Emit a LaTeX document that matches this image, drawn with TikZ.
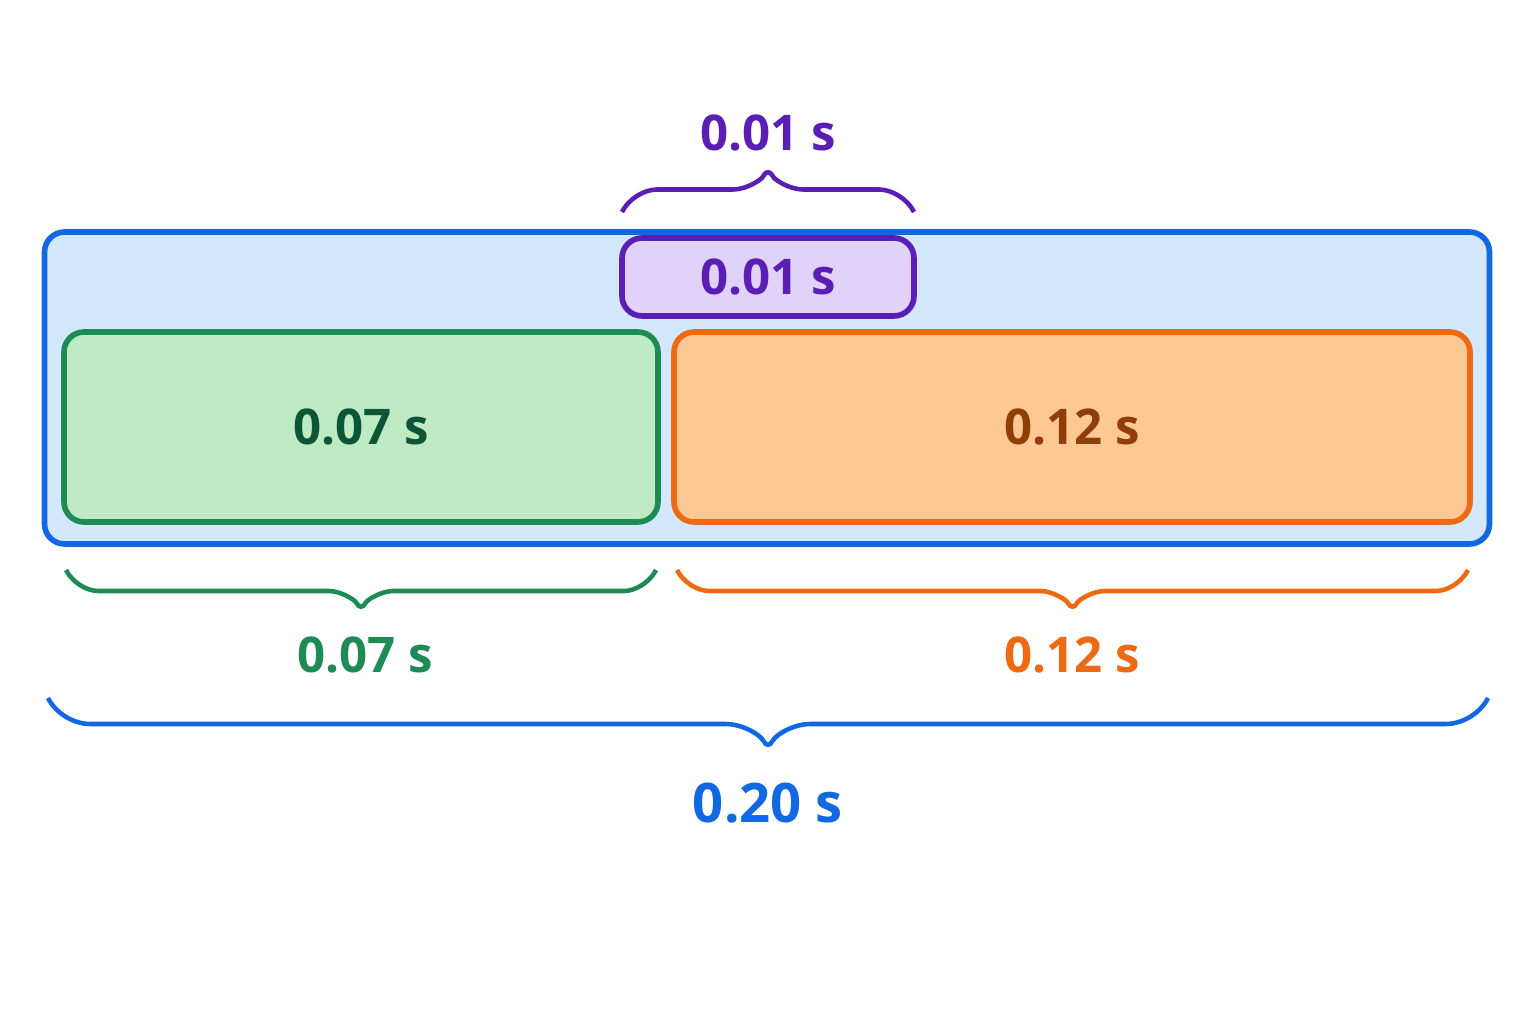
\documentclass[tikz,border=0pt]{standalone}
\usepackage{fontspec}
\setmainfont{Open Sans}
\usetikzlibrary{decorations.pathreplacing}
\definecolor{tblue}{HTML}{1268E0}
\definecolor{tbluefill}{HTML}{D3E8FC}
\definecolor{tpurple}{HTML}{5A1EB4}
\definecolor{tpurplefill}{HTML}{E0D2F8}
\definecolor{tgreen}{HTML}{1E8A55}
\definecolor{tgreenfill}{HTML}{BEEBC4}
\definecolor{tgreentext}{HTML}{0E5436}
\definecolor{torange}{HTML}{EE6A12}
\definecolor{torangefill}{HTML}{FDC894}
\definecolor{torangetext}{HTML}{8F3E08}
\begin{document}
\begin{tikzpicture}
   [x=0.1mm, y=-0.1mm,
   timebox/.style={rectangle, rounded corners=2mm, line width=1.6pt, inner sep=0pt},
   tlabel/.style={font=\bfseries\fontsize{14}{16}\selectfont},
   tbrace/.style={decorate, line width=1.3pt, rounded corners=1mm, decoration={brace, amplitude=#1}},
   ]
 \useasboundingbox[fill=white] (0,0) rectangle (1536,1024);
 \node at (767,388) [timebox, draw=tblue, fill=tbluefill, minimum width=14.45cm, minimum height=3.12cm] (total) {};
 \node at (768,277) [timebox, draw=tpurple, fill=tpurplefill, minimum width=2.92cm, minimum height=0.78cm, tlabel, text=tpurple] (gap) {0.01 s};
 \node at (361,427) [timebox, draw=tgreen, fill=tgreenfill, minimum width=5.94cm, minimum height=1.9cm, tlabel, text=tgreentext] (first) {0.07 s};
 \node at (1072,427) [timebox, draw=torange, fill=torangefill, minimum width=7.96cm, minimum height=1.9cm, tlabel, text=torangetext] (second) {0.12 s};
 % braces
 \coordinate (p1) at (622,212); \coordinate (p2) at (914,212);
 \coordinate (g1) at (656,570); \coordinate (g2) at (66,570);
 \coordinate (o1) at (1468,570); \coordinate (o2) at (677,570);
 \coordinate (b1) at (1488,698); \coordinate (b2) at (48,698);
 \draw[tbrace=4.5mm, tpurple] (p1) -- (p2);
 \draw[tbrace=4.2mm, tgreen] (g1) -- (g2);
 \draw[tbrace=4.2mm, torange] (o1) -- (o2);
 \draw[tbrace=5.2mm, tblue] (b1) -- (b2);
 \node at (768,133) [tlabel, text=tpurple] (gaplabel) {0.01 s};
 \node at (365,655) [tlabel, text=tgreen] (firstlabel) {0.07 s};
 \node at (1072,655) [tlabel, text=torange] (secondlabel) {0.12 s};
 \node at (768,803) [tlabel, font=\bfseries\fontsize{15.5}{18}\selectfont, text=tblue] (totallabel) {0.20 s};
\end{tikzpicture}
\end{document}
